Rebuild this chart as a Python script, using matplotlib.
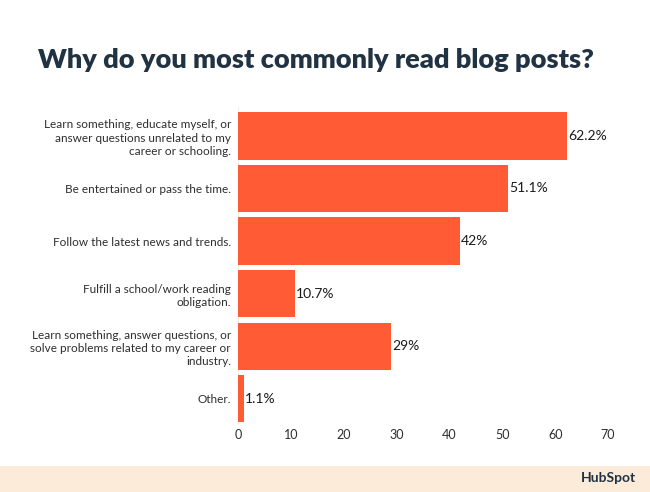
import matplotlib.pyplot as plt

categories = [
    'Learn something, educate myself, or\nanswer questions unrelated to my\ncareer or schooling.',
    'Be entertained or pass the time.',
    'Follow the latest news and trends.',
    'Fulfill a school/work reading\nobligation.',
    'Learn something, answer questions, or\nsolve problems related to my career or\nindustry.',
    'Other.',
]
values = [62.2, 51.1, 42, 10.7, 29, 1.1]
value_labels = ['62.2%', '51.1%', '42%', '10.7%', '29%', '1.1%']
ticks = [0, 10, 20, 30, 40, 50, 60, 70]

plt.rcParams['font.family'] = ['Lato', 'DejaVu Sans']

fig = plt.figure(figsize=(6.5, 4.92), dpi=100)
fig.patch.set_facecolor('white')

# footer band
fig.patches.append(plt.Rectangle((0, 0), 1, 26 / 492, transform=fig.transFigure,
                                 facecolor='#FDEBDA', edgecolor='none', zorder=0))
fig.text(0.978, 14 / 492, 'HubSpot', ha='right', va='center', fontsize=10,
         fontweight='bold', color='#213343')

fig.text(38 / 650, 1 - 60 / 492, 'Why do you most commonly read blog posts?',
         fontsize=19.5, fontweight='heavy', color='#213343', va='center', ha='left')

ax = fig.add_axes([238 / 650, 1 - 425 / 492, 370 / 650, 318 / 492])
y = list(range(len(categories)))
ax.barh(y, values, height=0.9, color='#FF5C35')
for yi, v, lab in zip(y, values, value_labels):
    ax.text(v + 0.2, yi, lab, va='center', ha='left', fontsize=10, color='#1a1a1a')

ax.set_yticks(y)
ax.set_yticklabels(categories, fontsize=8.5, color='#2E2E2E', linespacing=1.25)
ax.invert_yaxis()
ax.set_ylim(5.5, -0.55)
ax.set_xlim(0, 70)
ax.set_xticks(ticks)
ax.set_xticklabels([str(t) for t in ticks], fontsize=9, color='#2E2E2E')
ax.tick_params(axis='x', length=0, pad=3)
ax.tick_params(axis='y', length=0, pad=5)
for s in ax.spines.values():
    s.set_visible(False)
ax.axvline(0, color='#eeeeee', lw=0.8, zorder=0)

plt.savefig('out.png', dpi=100)
